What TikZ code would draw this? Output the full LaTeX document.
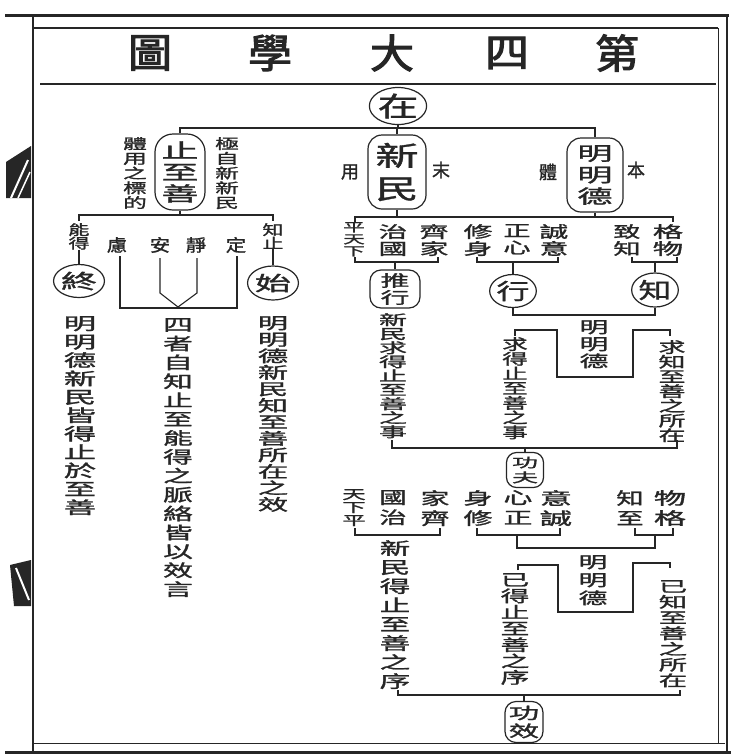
\documentclass[tikz,border=0pt]{standalone}
\usepackage{graphicx}
\usepackage{fontspec}
\setmainfont{Noto Sans CJK TC}[FakeBold=1.2]
\newfontfamily\titlefont{Noto Sans CJK TC}[FakeBold=2.5]
\usetikzlibrary{shapes.geometric}
\definecolor{inkc}{HTML}{262626}
\makeatletter
% vertical column of characters: [horizontal stretch]{line step}{characters}
\newcommand\vcol[3][1]{\vbox{\baselineskip=#2pt\relax\lineskiplimit=-100pt\relax\lineskip=0pt\relax\@tfor\vc@c:=#3\do{\hbox to #1em{\hss\scalebox{#1}[1]{\vc@c}\hss}}}}
\makeatother
\newcommand\fs[1]{\fontsize{#1}{#1}\selectfont}
\newcommand\wide[2]{\scalebox{#1}[1]{#2}}
\tikzset{
  ink/.style={draw=inkc, line width=1.1pt},
  frameline/.style={draw=inkc, line width=#1},
  capsule/.style={draw=inkc, line width=1.2pt, rounded corners=14pt, inner sep=0pt, text=inkc},
  oval/.style={ellipse, draw=inkc, line width=1.2pt, inner sep=0pt, text=inkc},
  col/.style={inner sep=0pt, anchor=north, text=inkc},
  lab/.style={inner sep=0pt, text=inkc},
  ttl/.style={inner sep=0pt, text=inkc, font=\titlefont\fs{40}}
}
\begin{document}
\begin{tikzpicture}[x=1pt,y=-1pt]
\useasboundingbox (0,0) rectangle (731,756);
\fill[white] (0,0) rectangle (731,756);
% ---------- frame ----------
\draw[frameline=3pt] (5,15) -- (729,15);
\draw[frameline=1.2pt] (33,28) -- (718,28);
\draw[frameline=1.5pt] (40,84) -- (716,84);
\draw[frameline=2pt] (33,15) -- (33,752);
\draw[frameline=1pt] (718,28) -- (718,743);
\draw[frameline=1.6pt] (727,15) -- (727,752);
\draw[frameline=1pt] (33,743) -- (725,743);
\draw[frameline=3pt] (5,752) -- (731,752);
% fish tails of the neighbouring page
\fill[inkc] (6,162) -- (31,146) -- (31,198) -- (6,198) -- cycle;
\draw[white, line width=2pt] (11,198) -- (28,160);
\draw[white, line width=1.5pt] (18,198) -- (30,172);
\fill[inkc] (10,565) -- (31,560) -- (31,606) -- (14,606) -- cycle;
\draw[white, line width=2pt] (16,568) -- (29,600);
% ---------- title ----------
\node[ttl] (t1) at (150,53) {\wide{1.1}{圖}};
\node[ttl] (t2) at (270,53) {\wide{1.1}{學}};
\node[ttl] (t3) at (392,53) {\wide{1.1}{大}};
\node[ttl] (t4) at (507,53) {\wide{1.1}{四}};
\node[ttl] (t5) at (617,53) {\wide{1.1}{第}};
% ---------- top ----------
\node[oval, minimum width=56, minimum height=37, font=\fs{27}] (zai) at (398,106) {\wide{1.5}{在}};
\coordinate (bus1) at (0,128);
\node[capsule, minimum width=50, minimum height=76, rounded corners=18pt, font=\fs{20}] (zhs) at (180,172) {\vcol[1.85]{21.5}{止至善}};
\node[col, font=\fs{14}] (tiyong) at (135,137) {\vcol[1.7]{14.75}{體用之標的}};
\node[col, font=\fs{14}] (jixin) at (227,137) {\vcol[1.7]{14.75}{極自新新民}};
\node[capsule, minimum width=58, minimum height=74, font=\fs{27}] (xm) at (397,172) {\vcol[1.6]{33}{新民}};
\node[capsule, minimum width=56, minimum height=74, font=\fs{19}] (mmd) at (595,175) {\vcol[1.85]{21.5}{明明德}};
\node[lab, font=\fs{18}] (yong) at (350,172) {用};
\node[lab, font=\fs{18}] (mo) at (441,170) {末};
\node[lab, font=\fs{18}] (ti) at (548,172) {體};
\node[lab, font=\fs{18}] (ben) at (636,170) {本};
\draw[ink] (zai.south) -- (zai.south |- bus1);
\draw[ink] (zhs.north) |- (mmd.north |- bus1) -- (mmd.north);
\draw[ink] (xm.north) -- (xm.north |- bus1);
% ---------- left branch ----------
\coordinate (bus2) at (0,215);
\draw[ink] (zhs.south) -- (zhs.south |- bus2);
\draw[ink] (79,221) |- (273,215) -- (273,221);
\node[col, font=\fs{14}] (nengde) at (79,223) {\vcol[1.5]{13.5}{能得}};
\node[col, font=\fs{14}] (zhizhi) at (273,223) {\vcol[1.5]{13.5}{知止}};
\node[lab, font=\fs{17}] (lv) at (117,245) {\wide{1.2}{慮}};
\node[lab, font=\fs{17}] (an) at (160,245) {\wide{1.2}{安}};
\node[lab, font=\fs{17}] (jing) at (196,245) {\wide{1.2}{靜}};
\node[lab, font=\fs{17}] (ding) at (236,245) {\wide{1.2}{定}};
\node[oval, minimum width=50, minimum height=33, font=\fs{20}] (zhong) at (79,281) {\wide{1.8}{終}};
\node[oval, minimum width=50, minimum height=34, font=\fs{20}] (shi) at (273,283) {\wide{1.8}{始}};
\draw[ink] (nengde.south) -- (zhong.north);
\draw[ink] (zhizhi.south) -- (shi.north);
\coordinate (vtip) at (178,307);
\draw[ink] (120,256) |- (237,308) -- (237,256);
\draw[ink] (160,258) -- (160,293) -- (vtip) -- (197,293) -- (197,258);
\node[col, font=\fs{17}] (c1) at (80,316) {\vcol[1.9]{18.4}{明明德新民皆得止於至善}};
\node[col, font=\fs{17}] (c2) at (178,318) {\vcol[1.75]{18.9}{四者自知止至能得之脈絡皆以效言}};
\node[col, font=\fs{16}] (c3) at (273,316) {\vcol[1.9]{16.5}{明明德新民知至善所在之效}};
% ---------- right branch, row 1 ----------
\coordinate (bus3) at (0,217);
\draw[ink] (355,222) |- (673,217) -- (673,222);
\draw[ink] (xm.south) -- (xm.south |- bus3);
\draw[ink] (mmd.south) -- (mmd.south |- bus3);
\node[col, font=\fs{12}] (pt1) at (354,222) {\vcol[1.8]{12}{平天下}};
\node[col, font=\fs{16}] (zg1) at (393,224) {\vcol[1.8]{17}{治國}};
\node[col, font=\fs{16}] (qj1) at (434,224) {\vcol[1.8]{17}{齊家}};
\node[col, font=\fs{16}] (xs1) at (478,224) {\vcol[1.8]{17}{修身}};
\node[col, font=\fs{16}] (zx1) at (517,224) {\vcol[1.7]{17}{正心}};
\node[col, font=\fs{16}] (cy1) at (554,224) {\vcol[1.8]{17}{誠意}};
\node[col, font=\fs{16}] (zz1) at (627,224) {\vcol[1.7]{17}{致知}};
\node[col, font=\fs{16}] (gw1) at (668,224) {\vcol[1.9]{17}{格物}};
\coordinate (bus4) at (0,262);
\draw[ink] (355,257) |- (438,262) -- (438,257);
\draw[ink] (477,257) |- (558,262) -- (558,257);
\draw[ink] (632,257) |- (677,262) -- (677,257);
\node[capsule, minimum width=50, minimum height=38, rounded corners=11pt, font=\fs{16}] (tui) at (395,289) {\vcol[1.8]{17}{推行}};
\node[oval, minimum width=46, minimum height=33, font=\fs{22}] (xing) at (513,291) {\wide{1.5}{行}};
\node[oval, minimum width=46, minimum height=34, font=\fs{22}] (zhi) at (655,290) {\wide{1.5}{知}};
\draw[ink] (tui.north) -- (tui.north |- bus4);
\draw[ink] (xing.north) -- (xing.north |- bus4);
\draw[ink] (zhi.north) -- (zhi.north |- bus4);
\coordinate (bus5) at (0,315);
\draw[ink] (xing.south) |- (zhi.south |- bus5) -- (zhi.south);
\draw[ink] (515,336) -- (515,330) -- (557,330) -- (557,377) -- (633,377) -- (633,330) -- (670,330) -- (670,336);
\node[col, font=\fs{16}] (mm1) at (594,320) {\vcol[1.8]{17}{明明德}};
\node[col, font=\fs{14}] (d1) at (393,313) {\vcol[2]{14}{新民求得止至善之事}};
\node[col, font=\fs{15}] (d2) at (515,337) {\vcol[1.7]{14.7}{求得止至善之事}};
\node[col, font=\fs{15}] (d3) at (672,340) {\vcol[1.8]{14.7}{求知至善之所在}};
\coordinate (bus6) at (0,448);
\draw[ink] (392,440) |- (677,448) -- (677,440);
\node[capsule, minimum width=37, minimum height=35, rounded corners=10pt, font=\fs{13}] (gf) at (525,470) {\vcol[2]{15}{功夫}};
\draw[ink] (gf.north) -- (gf.north |- bus6);
% ---------- right branch, row 2 ----------
\node[col, font=\fs{13}] (pt2) at (354,489) {\vcol[1.8]{13}{天下平}};
\node[col, font=\fs{17}] (zg2) at (393,490) {\vcol[1.6]{20}{國治}};
\node[col, font=\fs{17}] (qj2) at (435,490) {\vcol[1.7]{20}{家齊}};
\node[col, font=\fs{17}] (xs2) at (478,490) {\vcol[1.7]{20}{身修}};
\node[col, font=\fs{17}] (zx2) at (518,490) {\vcol[1.7]{20}{心正}};
\node[col, font=\fs{17}] (cy2) at (556,490) {\vcol[1.9]{20}{意誠}};
\node[col, font=\fs{17}] (zz2) at (630,490) {\vcol[1.6]{20}{知至}};
\node[col, font=\fs{17}] (gw2) at (670,490) {\vcol[1.9]{20}{物格}};
\draw[ink] (355,528) |- (440,535) -- (440,528);
\draw[ink] (477,528) |- (560,535) -- (560,528);
\draw[ink] (635,528) |- (673,535) -- (673,528);
\draw[ink] (517,535) -- (517,548) -- (655,548) -- (655,535);
\draw[ink] (518,570) -- (518,565) -- (558,565) -- (558,612) -- (633,612) -- (633,563) -- (670,563) -- (670,568);
\node[col, font=\fs{16}] (mm2) at (593,555) {\vcol[1.8]{18}{明明德}};
\node[col, font=\fs{17}] (e1) at (395,540) {\vcol[1.8]{19}{新民得止至善之序}};
\node[col, font=\fs{16}] (e2) at (515,573) {\vcol[1.8]{16.3}{已得止至善之序}};
\node[col, font=\fs{15}] (e3) at (673,580) {\vcol[1.9]{15.7}{已知至善之所在}};
\coordinate (bus7) at (0,695);
\draw[ink] (398,690) |- (680,695) -- (680,690);
\node[capsule, minimum width=38, minimum height=41, rounded corners=11pt, font=\fs{16}] (gx) at (524,722) {\vcol[1.9]{18}{功效}};
\draw[ink] (gx.north) -- (gx.north |- bus7);
\end{tikzpicture}
\end{document}
